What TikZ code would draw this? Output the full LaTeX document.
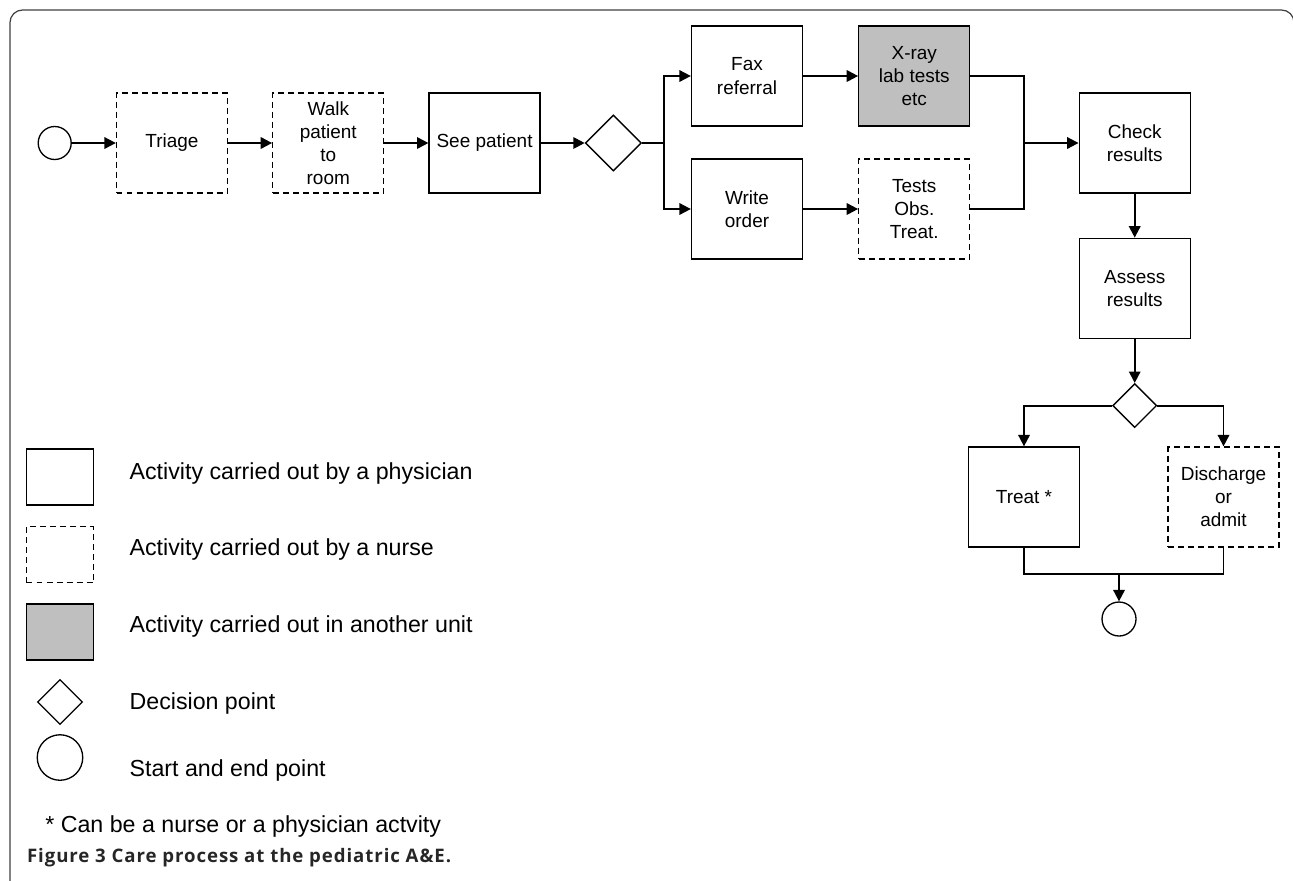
\documentclass[tikz,border=0pt]{standalone}
\usepackage{fontspec}
\setmainfont{Liberation Sans}
\newfontfamily\capfont[LetterSpace=5]{Open Sans}
\usetikzlibrary{arrows.meta,positioning,shapes.geometric}

\begin{document}
\begin{tikzpicture}[
  x=0.02cm, y=-0.02cm,
  node distance=0.88cm,
  act/.style={rectangle, draw, line width=0.75pt,
              minimum width=2.22cm, minimum height=2cm,
              inner sep=1pt, align=center,
              font=\fontsize{10.8}{13.2}\selectfont},
  nurse/.style={act, dash pattern=on 3.4pt off 2.3pt},
  other/.style={act, fill=black!25},
  dec/.style={diamond, draw, line width=0.75pt,
              inner sep=0pt, minimum size=1.12cm},
  term/.style={circle, draw, line width=0.75pt,
               inner sep=0pt, minimum size=0.66cm},
  arr/.style={-{Triangle[length=6.5pt,width=6.5pt]}, line width=1.1pt},
  lnk/.style={line width=1.1pt},
  legtxt/.style={anchor=west, inner sep=0pt,
                 font=\fontsize{13.2}{15}\selectfont}
]
\useasboundingbox (0,0) rectangle (1293,880);

% frame
\begin{scope}
  \clip (0,0) rectangle (1293,880);
  \draw[line width=0.7pt, black!75, rounded corners=0.25cm]
    (10,900) -- (10,10) -- (1294,10) -- (1294,900);
\end{scope}

% main flow
\node[term] (start) at (54.7,143) {};
\node[nurse, right=of start]  (triage) {Triage};
\node[nurse, right=of triage] (walk)   {Walk\\patient\\to\\room};
\node[act,   right=of walk]   (see)    {See patient};
\node[dec,   right=of see]    (dec1)   {};
\coordinate (fork) at (664,143);

\node[act] (fax)   at (747,76)  {Fax\\referral};
\node[act] (write) at (747,209) {Write\\order};
\node[other, right=1.1cm of fax]   (xray)  {X-ray\\lab tests\\etc};
\node[nurse, right=1.1cm of write] (tests) {Tests\\Obs.\\Treat.};
\coordinate (join1) at (1024,143);

\node[act] (check) at (1134.7,143) {Check\\results};
\node[act, below=of check]  (assess) {Assess\\results};
\node[dec, minimum size=0.88cm, below=of assess] (dec2) {};

\node[act]   (treat) at (1024,497)   {Treat *};
\node[nurse] (disch) at (1223.5,497) {Discharge\\or\\admit};
\coordinate (join2) at (1119,574.3);
\node[term, minimum size=0.68cm] (stop) at (1119,619) {};

\draw[arr] (start)  -- (triage);
\draw[arr] (triage) -- (walk);
\draw[arr] (walk)   -- (see);
\draw[arr] (see)    -- (dec1);
\draw[lnk] (dec1.east) -- (fork);
\draw[arr] (fork) |- (fax.west);
\draw[arr] (fork) |- (write.west);
\draw[arr] (fax)   -- (xray);
\draw[arr] (write) -- (tests);
\draw[lnk] (xray.east)  -| (join1);
\draw[lnk] (tests.east) -| (join1);
\draw[arr] (join1) -- (check.west);
\draw[arr] (check)  -- (assess);
\draw[arr] (assess) -- (dec2);
\draw[arr] (dec2.west) -| (treat.north);
\draw[arr] (dec2.east) -| (disch.north);
\draw[lnk] (treat.south) |- (join2);
\draw[lnk] (disch.south) |- (join2);
\draw[arr] (join2) -- (stop);

% legend
\node[act,   minimum width=1.34cm, minimum height=1.12cm] (legphys)  at (60,477)   {};
\node[nurse, minimum width=1.34cm, minimum height=1.12cm] (legnurse) at (60,554.7) {};
\node[other, minimum width=1.34cm, minimum height=1.12cm] (legother) at (60,632)   {};
\node[dec,  minimum size=0.9cm]  (legdec)  at (60,702)   {};
\node[term, minimum size=0.91cm] (legterm) at (60,757.5) {};

\node[legtxt] (txtphys)  at (129.3,473)   {Activity carried out by a physician};
\node[legtxt] (txtnurse) at (129.3,549.3) {Activity carried out by a nurse};
\node[legtxt] (txtother) at (129.3,626.7) {Activity carried out in another unit};
\node[legtxt] (txtdec)   at (129.3,703.3) {Decision point};
\node[legtxt] (txtterm)  at (129.3,770)   {Start and end point};

\node[legtxt] (note) at (45,826.7) {* Can be a nurse or a physician actvity};
\node[anchor=west, inner sep=0pt, text=black!85,
      font=\capfont\bfseries\fontsize{10.6}{12}\selectfont] (caption)
  at (26.7,858) {Figure 3 Care process at the pediatric A\&E.};

\end{tikzpicture}
\end{document}
